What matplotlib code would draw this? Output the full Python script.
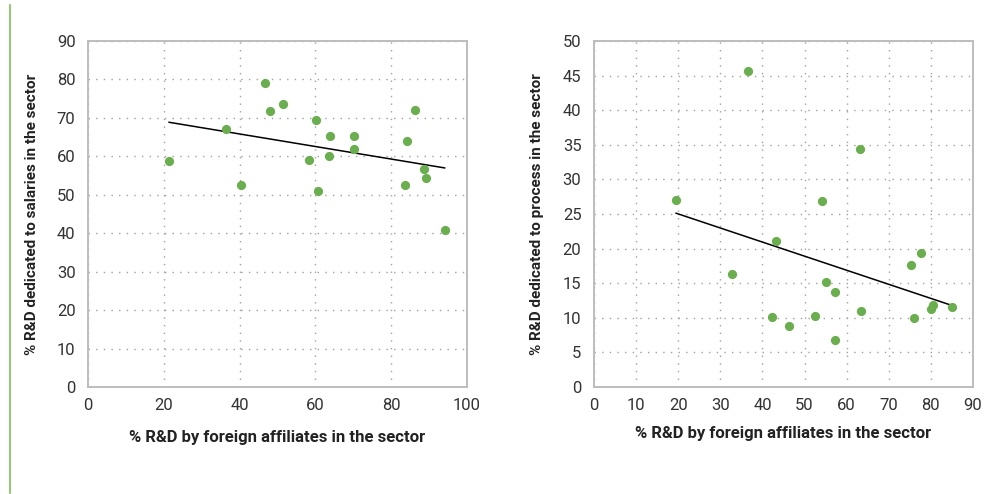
import numpy as np
import matplotlib
matplotlib.use("Agg")
import matplotlib.pyplot as plt

plt.rcParams['font.family'] = ['Roboto', 'DejaVu Sans']

# left panel: salaries
sal_x = [21.4, 36.3, 40.5, 46.8, 48.0, 51.5, 58.2, 60.2, 60.8, 63.5,
         63.8, 70.2, 70.2, 83.7, 84.1, 86.2, 88.7, 89.2, 94.1]
sal_y = [58.7, 67.1, 52.6, 79.2, 71.8, 73.7, 59.1, 69.5, 50.9, 60.0,
         65.3, 65.3, 61.9, 52.6, 64.1, 72.0, 56.8, 54.4, 40.9]

# right panel: process
proc_x = [19.5, 32.8, 36.6, 42.3, 43.3, 46.2, 52.4, 54.2, 55.1, 57.3,
          57.3, 63.1, 63.5, 75.3, 76.0, 77.7, 80.0, 80.5, 85.0]
proc_y = [27.0, 16.4, 45.7, 10.1, 21.1, 8.8, 10.3, 26.9, 15.2, 13.7,
          6.8, 34.4, 11.0, 17.6, 10.0, 19.4, 11.3, 11.9, 11.5]

xlabel = "% R&D by foreign affiliates in the sector"
ylab_sal = "% R&D dedicated to salaries in the sector"
ylab_proc = "% R&D dedicated to process in the sector"

green = '#6aae4f'
W, H = 995, 494
fig = plt.figure(figsize=(W/100, H/100), dpi=100)

# green rule on the left
fig.add_artist(plt.Line2D([10/W, 10/W], [1-5/H, 1-493/H], color='#7cc15a', lw=1.2))


def panel(rect, x, y, xmax, xstep, ymax, ystep, ylabel, ylab_x, xlab_y):
    ax = fig.add_axes(rect)
    ax.scatter(x, y, s=44, color=green, zorder=3, linewidths=0)
    k, b = np.polyfit(x, y, 1)
    xs = np.array([min(x), max(x)])
    ax.plot(xs, k*xs + b, color='black', lw=1.1, zorder=2)
    ax.set_xlim(0, xmax)
    ax.set_ylim(0, ymax)
    ax.set_xticks(np.arange(0, xmax+1, xstep))
    ax.set_yticks(np.arange(0, ymax+1, ystep))
    ax.grid(True, color='#a0a0a0', lw=1.0, linestyle=(0, (1, 4.5)))
    ax.set_axisbelow(True)
    for s in ax.spines.values():
        s.set_color('#bdbdbd')
        s.set_linewidth(1.4)
    ax.tick_params(length=0, labelsize=12, colors='#333333')
    ax.tick_params(axis='y', pad=9)
    ax.tick_params(axis='x', pad=8)
    fig.text(ylab_x/W, 1-214/H, ylabel, rotation=90, ha='center', va='center',
             fontsize=11, fontweight='bold', color='#222222')
    fig.text((rect[0]+rect[2]/2), 1-xlab_y/H, xlabel, ha='center', va='center',
             fontsize=12, fontweight='bold', color='#222222')
    return ax


bot = (H-387)/H
hgt = 346/H
panel([88/W, bot, 379/W, hgt], sal_x, sal_y, 100, 20, 90, 10, ylab_sal, 32, 437)
panel([594/W, bot, 379/W, hgt], proc_x, proc_y, 90, 10, 50, 5, ylab_proc, 537, 433)

fig.savefig('out.png', dpi=100)
